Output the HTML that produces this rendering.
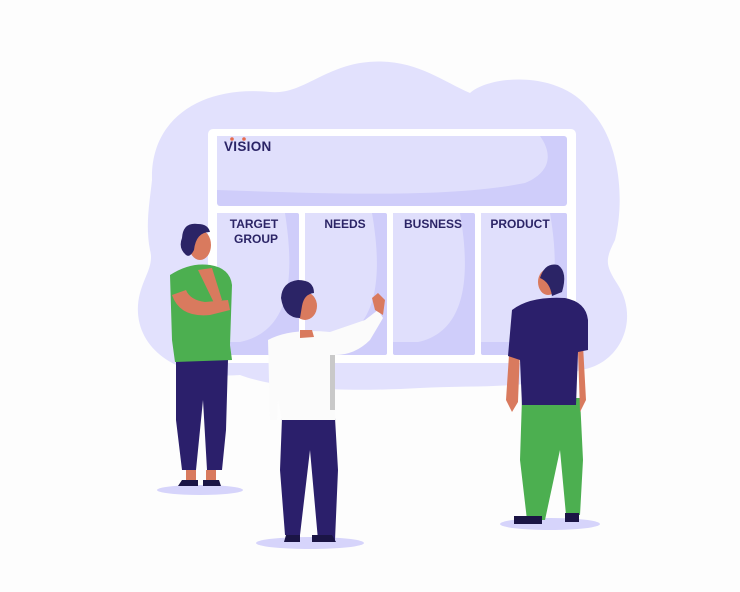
<!DOCTYPE html>
<html><head><meta charset="utf-8"><style>
html,body{margin:0;padding:0;background:#fff;width:740px;height:592px;overflow:hidden}
svg{display:block}
text{font-family:"Liberation Sans",sans-serif;font-weight:bold;fill:#2b2466}
</style></head><body>
<svg width="740" height="592" viewBox="0 0 740 592" xmlns="http://www.w3.org/2000/svg">
<rect width="740" height="592" fill="#fdfdfd"/>
<!-- blob -->
<path d="M152 180 C150 120 200 85 270 92 C300 95 320 70 360 63 C410 55 440 80 470 93 C490 75 560 70 590 110 C620 140 625 200 615 240 C605 260 605 265 618 285 C640 320 620 365 580 370 C540 390 480 385 420 388 C350 392 280 390 240 375 C180 380 135 350 138 305 C140 280 155 268 150 250 C145 225 150 200 152 180 Z" fill="#e2e1fd"/>
<!-- board frame -->
<rect x="208" y="129" width="368" height="234" rx="5" fill="#ffffff"/>
<rect x="217" y="136" width="350" height="70" rx="3" fill="#cfcdfa"/>
<path d="M217 136 H540 C550 150 555 170 525 183 C450 198 330 194 217 190 Z" fill="#e0dffc"/>
<g fill="#cfcdfa">
<rect x="217" y="213" width="82" height="142" rx="2"/>
<rect x="305" y="213" width="82" height="142" rx="2"/>
<rect x="393" y="213" width="82" height="142" rx="2"/>
<rect x="481" y="213" width="86" height="142" rx="2"/>
</g>
<g fill="#e0dffc">
<path d="M217 213 H285 C292 260 298 330 240 342 H217 Z"/>
<path d="M305 213 H372 C380 260 385 330 330 342 H305 Z"/>
<path d="M393 213 H460 C468 260 473 330 418 342 H393 Z"/>
<path d="M481 213 H550 C558 260 562 330 510 342 H481 Z"/>
</g>
<text x="224" y="151" font-size="13.5" letter-spacing="0.3">VISION</text>
<circle cx="232" cy="139" r="1.8" fill="#e56b4e"/>
<circle cx="244" cy="139" r="1.8" fill="#e56b4e"/>
<text x="254" y="228" font-size="12" text-anchor="middle">TARGET</text>
<text x="256" y="243" font-size="12" text-anchor="middle">GROUP</text>
<text x="345" y="228" font-size="12" text-anchor="middle">NEEDS</text>
<text x="433" y="228" font-size="12" text-anchor="middle">BUSNESS</text>
<text x="520" y="228" font-size="12" text-anchor="middle">PRODUCT</text>
<!-- shadows -->
<ellipse cx="200" cy="490" rx="43" ry="5" fill="#d6d4fb"/>
<ellipse cx="310" cy="543" rx="54" ry="6" fill="#d6d4fb"/>
<ellipse cx="550" cy="524" rx="50" ry="6" fill="#d6d4fb"/>
<!-- person 1 -->
<path d="M176 360 H228 L226 430 L222 470 H207 L203 400 L196 470 H182 L176 420 Z" fill="#2b1f6b"/>
<path d="M186 470 h10 v10 h-10z M206 470 h10 v10 h-10z" fill="#d87a5e"/>
<path d="M182 480 h16 v6 h-20z M203 480 h16 l2 6 h-18z" fill="#1b1545"/>
<path d="M170 275 Q190 262 210 265 Q230 268 232 285 L230 345 L232 360 L175 362 L172 340 Z" fill="#4caf50"/>
<path d="M172 295 Q180 318 210 315 L230 310 L228 300 L205 302 Q190 300 186 290 Z" fill="#d97a5e"/>
<path d="M198 270 L212 268 L222 300 L215 305 Z" fill="#d97a5e"/>
<ellipse cx="200" cy="245" rx="11" ry="15" fill="#d97a5e"/>
<path d="M182 238 Q183 222 198 224 Q208 224 210 232 Q196 232 194 250 Q190 258 186 255 Q178 248 182 238 Z" fill="#2b2466"/>
<!-- person 2 -->
<path d="M282 418 H335 L338 470 L335 540 H318 L310 450 L300 535 H285 L280 470 Z" fill="#2b1f6b"/>
<path d="M286 535 h14 v7 h-16z M312 535 h20 l4 7 h-24z" fill="#1b1545"/>
<path d="M268 340 Q290 328 330 332 L365 320 L378 310 L383 318 L370 340 Q355 355 335 355 L335 420 L282 420 L278 400 L277 420 L270 420 Z" fill="#fbfbfb"/>
<path d="M330 355 L335 355 L335 410 L330 410 Z" fill="#c9c9c9"/>
<path d="M375 310 L372 298 L378 293 L385 300 L383 315 Z" fill="#d97a5e"/>
<ellipse cx="305" cy="306" rx="12" ry="14" fill="#d97a5e"/>
<path d="M300 330 L312 330 L314 337 L300 338 Z" fill="#d97a5e"/>
<path d="M281 298 Q282 282 298 280 Q314 280 314 293 Q304 294 302 306 L300 318 Q284 318 281 298 Z" fill="#2b2466"/>
<!-- person 3 -->
<path d="M522 398 H580 L583 460 L580 515 H566 L560 450 L545 520 H527 L520 460 Z" fill="#4caf50"/>
<path d="M514 516 h28 v8 h-28z M565 513 h14 v9 h-14z" fill="#1b1545"/>
<path d="M510 340 L506 400 L512 412 L518 402 L520 350 Z M583 345 L586 400 L580 412 L578 350 Z" fill="#d97a5e"/>
<path d="M512 310 Q530 296 565 298 Q586 302 588 320 L588 350 L578 352 L576 405 L522 405 L520 360 L508 356 Z" fill="#2b1f6b"/>
<ellipse cx="548" cy="282" rx="10" ry="13" fill="#d97a5e"/>
<path d="M540 278 Q545 262 558 265 Q568 272 562 292 L552 296 Q550 282 540 278 Z" fill="#2b2466"/>
</svg>
</body></html>
